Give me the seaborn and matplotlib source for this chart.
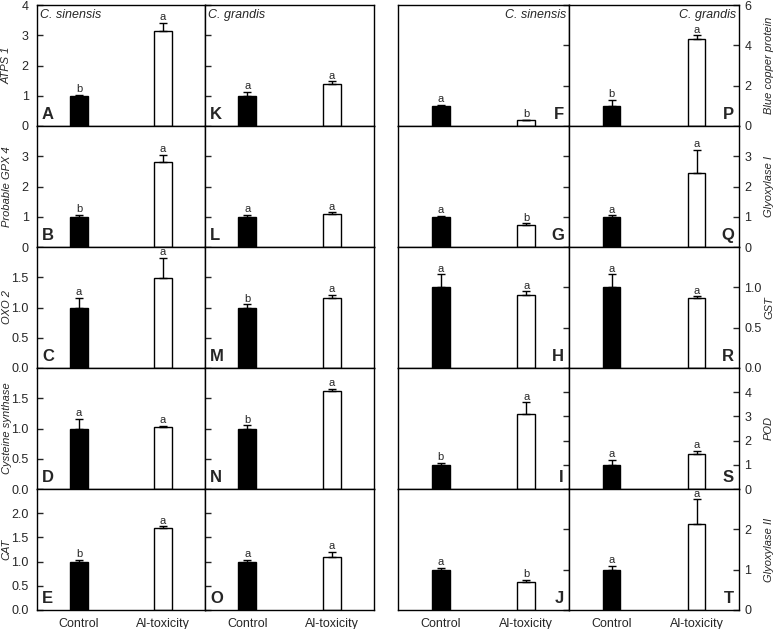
import matplotlib.pyplot as plt
import seaborn as sns
import pandas as pd

# style
sns.set_style('ticks')
plt.rcParams['font.family'] = ['Liberation Sans', 'DejaVu Sans']

# data (relative expression)
groups = ['Control', 'Al-toxicity']

left_genes = ['ATPS 1', 'Probable GPX 4', 'OXO 2', 'Cysteine synthase', 'CAT']
right_genes = ['Blue copper protein', 'Glyoxylase I', 'GST', 'POD', 'Glyoxylase II']

# C. sinensis, left block (A-E)
sinL_mean = [[1.0, 3.15], [1.0, 2.80], [1.0, 1.48], [1.0, 1.02], [1.0, 1.69]]
sinL_err = [[0.03, 0.27], [0.06, 0.25], [0.16, 0.34], [0.16, 0.02], [0.04, 0.04]]
sinL_sig = [['b', 'a'], ['b', 'a'], ['a', 'a'], ['a', 'a'], ['b', 'a']]
sinL_tag = ['A', 'B', 'C', 'D', 'E']

# C. grandis, left block (K-O)
graL_mean = [[1.0, 1.40], [1.0, 1.10], [1.0, 1.16], [1.0, 1.62], [1.0, 1.09]]
graL_err = [[0.13, 0.08], [0.07, 0.05], [0.05, 0.05], [0.05, 0.03], [0.04, 0.11]]
graL_sig = [['a', 'a'], ['a', 'a'], ['b', 'a'], ['b', 'a'], ['a', 'a']]
graL_tag = ['K', 'L', 'M', 'N', 'O']

# C. sinensis, right block (F-J)
sinR_mean = [[1.0, 0.32], [1.0, 0.73], [1.0, 0.91], [1.0, 3.08], [1.0, 0.69]]
sinR_err = [[0.04, 0.0], [0.03, 0.05], [0.16, 0.04], [0.08, 0.50], [0.04, 0.05]]
sinR_sig = [['a', 'b'], ['a', 'b'], ['a', 'a'], ['b', 'a'], ['a', 'b']]
sinR_tag = ['F', 'G', 'H', 'I', 'J']

# C. grandis, right block (P-T)
graR_mean = [[1.0, 4.30], [1.0, 2.46], [1.0, 0.87], [1.0, 1.45], [1.0, 2.12]]
graR_err = [[0.30, 0.20], [0.05, 0.75], [0.16, 0.02], [0.20, 0.13], [0.10, 0.62]]
graR_sig = [['b', 'a'], ['a', 'a'], ['a', 'a'], ['a', 'a'], ['a', 'a']]
graR_tag = ['P', 'Q', 'R', 'S', 'T']

# axis ranges per row
left_ylim = [4, 4, 2.0, 2.0, 2.5]
left_ticks = [[0, 1, 2, 3, 4], [0, 1, 2, 3], [0.0, 0.5, 1.0, 1.5], [0.0, 0.5, 1.0, 1.5], [0.0, 0.5, 1.0, 1.5, 2.0]]
right_ylim = [6, 4, 1.5, 5, 3]
right_ticks = [[0, 2, 4, 6], [0, 1, 2, 3], [0.0, 0.5, 1.0], [0, 1, 2, 3, 4], [0, 1, 2]]
dec_left = [False, False, True, True, True]
dec_right = [False, False, True, False, False]

W, H = 776, 629
fig = plt.figure(figsize=(W / 100, H / 100), dpi=100)

col_x = [37, 205, 398, 569]
col_w = [168, 169, 171, 170]
row_top, row_h = 5, 121

columns = [
    (sinL_mean, sinL_err, sinL_sig, sinL_tag, 'C. sinensis'),
    (graL_mean, graL_err, graL_sig, graL_tag, 'C. grandis'),
    (sinR_mean, sinR_err, sinR_sig, sinR_tag, 'C. sinensis'),
    (graR_mean, graR_err, graR_sig, graR_tag, 'C. grandis'),
]


def fmt(v, dec):
    return f'{v:.1f}' if dec else f'{v:g}'


for c, (means, errs, sigs, tags, species) in enumerate(columns):
    right_side = c >= 2
    for r in range(5):
        x0 = col_x[c] / W
        y0 = 1 - (row_top + row_h * (r + 1)) / H
        ax = fig.add_axes([x0, y0, col_w[c] / W, row_h / H])

        df = pd.DataFrame({'group': groups, 'value': means[r]})
        sns.barplot(data=df, x='group', y='value', hue='group',
                    palette=['black', 'white'], width=0.21, edgecolor='black',
                    linewidth=1, errorbar=None, legend=False, ax=ax)
        ax.errorbar([0, 1], means[r], yerr=[[0, 0], errs[r]], fmt='none',
                    ecolor='black', elinewidth=1, capsize=3, capthick=1, zorder=5)
        for i in range(2):
            ax.annotate(sigs[r][i], (i, means[r][i] + errs[r][i]), xytext=(0, 0.5),
                        textcoords='offset points', ha='center', va='bottom', fontsize=8)

        ax.set_xlim(-0.5, 1.5)
        ylim = right_ylim[r] if right_side else left_ylim[r]
        ticks = right_ticks[r] if right_side else left_ticks[r]
        dec = dec_right[r] if right_side else dec_left[r]
        ax.set_ylim(0, ylim)
        ax.set_yticks(ticks)
        for s in ax.spines.values():
            s.set_linewidth(1)
            s.set_color('black')

        ax.tick_params(axis='x', length=0, labelsize=9, pad=6)
        ax.set_xlabel('')
        ax.set_ylabel('')
        if r < 4:
            ax.set_xticklabels([])
        else:
            ax.set_xticks([0, 1])
            ax.set_xticklabels(groups)

        if c == 0:
            ax.tick_params(axis='y', direction='in', length=4, width=1, labelsize=9, pad=6)
            ax.set_yticklabels([fmt(t, dec) for t in ticks])
            ax.set_ylabel(left_genes[r], style='italic', fontsize=8)
            ax.yaxis.set_label_coords((11.5 - col_x[c]) / col_w[c], 0.5)
        elif c == 1:
            ax.tick_params(axis='y', direction='in', length=4, width=1, labelleft=False)
        elif c == 2:
            ax.yaxis.tick_right()
            ax.tick_params(axis='y', direction='in', length=4, width=1, labelright=False)
        else:
            ax.yaxis.tick_right()
            ax.yaxis.set_label_position('right')
            ax.tick_params(axis='y', direction='in', length=4, width=1, labelsize=9, pad=4)
            ax.set_yticklabels([fmt(t, dec) for t in ticks])
            ax.set_ylabel(right_genes[r], style='italic', fontsize=8, rotation=90)
            ax.yaxis.set_label_coords((764 - col_x[c]) / col_w[c], 0.5)

        # panel letter
        if right_side:
            ax.text(0.97, 0.03, tags[r], transform=ax.transAxes, ha='right', va='bottom',
                    fontsize=12, fontweight='bold')
        else:
            ax.text(0.03, 0.03, tags[r], transform=ax.transAxes, ha='left', va='bottom',
                    fontsize=12, fontweight='bold')

        if r == 0:
            if right_side:
                ax.text(0.985, 0.97, species, transform=ax.transAxes, ha='right', va='top',
                        fontsize=9, style='italic')
            else:
                ax.text(0.02, 0.97, species, transform=ax.transAxes, ha='left', va='top',
                        fontsize=9, style='italic')

plt.savefig('out.png', dpi=100)
plt.close()
